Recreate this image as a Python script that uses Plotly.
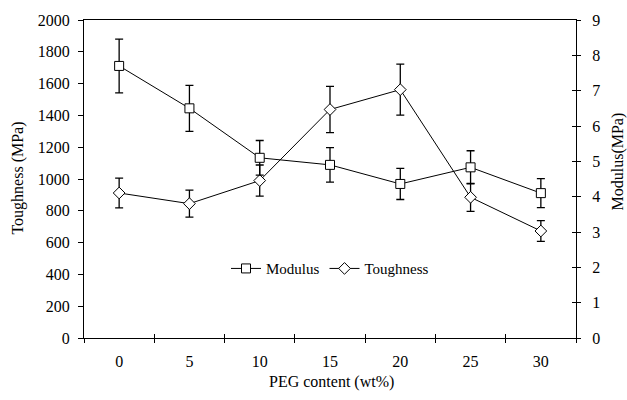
import plotly.graph_objects as go

peg = [0, 5, 10, 15, 20, 25, 30]
peg_labels = ["0", "5", "10", "15", "20", "25", "30"]

toughness = [912, 845, 990, 1437, 1562, 885, 673]
toughness_err = [93, 85, 98, 145, 160, 88, 65]

modulus = [7.70, 6.50, 5.10, 4.90, 4.36, 4.83, 4.10]
modulus_err = [0.76, 0.65, 0.49, 0.49, 0.44, 0.47, 0.41]

left_ticks = list(range(0, 2001, 200))
right_ticks = list(range(0, 10))

FONT = "Liberation Serif, Times New Roman, serif"
step = peg[1] - peg[0]
xr = [peg[0] - step / 2, peg[-1] + step / 2]
bounds = [peg[0] - step / 2 + i * step for i in range(len(peg) + 1)]

fig = go.Figure()
fig.add_trace(go.Scatter(
    x=peg, y=modulus, name="Modulus", yaxis="y2", mode="lines+markers",
    line=dict(color="black", width=1),
    marker=dict(symbol="square", size=9, color="white", line=dict(color="black", width=1)),
    error_y=dict(type="data", array=modulus_err, color="black", thickness=1.3, width=4),
))
fig.add_trace(go.Scatter(
    x=peg, y=toughness, name="Toughness", yaxis="y", mode="lines+markers",
    line=dict(color="black", width=1),
    marker=dict(symbol="diamond", size=9, color="white", line=dict(color="black", width=1)),
    error_y=dict(type="data", array=toughness_err, color="black", thickness=1.3, width=4),
))
# invisible helper traces so the tick-only overlay axes are drawn
fig.add_trace(go.Scatter(x=[None], y=[None], xaxis="x2", yaxis="y", showlegend=False, hoverinfo="skip"))
fig.add_trace(go.Scatter(x=[None], y=[None], xaxis="x3", yaxis="y", showlegend=False, hoverinfo="skip"))
fig.add_trace(go.Scatter(x=[None], y=[None], xaxis="x", yaxis="y3", showlegend=False, hoverinfo="skip"))

tickfont = dict(family=FONT, size=16, color="black")
titlefont = dict(family=FONT, size=16, color="black")

fig.update_layout(
    width=627, height=400,
    margin=dict(l=84, r=51, t=17, b=62),
    paper_bgcolor="white", plot_bgcolor="white",
    font=dict(family=FONT, size=16, color="black"),
    showlegend=True,
    legend=dict(orientation="h", x=0.50, y=0.218, xanchor="center", yanchor="middle",
                font=dict(family=FONT, size=15, color="black"), bgcolor="rgba(0,0,0,0)",
                itemwidth=30, tracegroupgap=0),
    xaxis=dict(range=xr, tickvals=peg, ticktext=peg_labels, ticks="", showline=True,
               linecolor="black", linewidth=1.3, mirror=True, showgrid=False, zeroline=False,
               tickfont=tickfont, ticklabelstandoff=9),
    xaxis2=dict(range=xr, overlaying="x", anchor="y", tickvals=bounds, ticks="outside",
                ticklen=4, tickcolor="black", showticklabels=False, showline=False,
                showgrid=False, zeroline=False),
    xaxis3=dict(range=xr, overlaying="x", anchor="y", tickvals=bounds, ticks="inside",
                ticklen=4, tickcolor="black", showticklabels=False, showline=False,
                showgrid=False, zeroline=False),
    yaxis=dict(range=[0, 2000], tickvals=left_ticks, ticks="outside", ticklen=5,
               tickcolor="black", showline=True, linecolor="black", linewidth=1.3,
               showgrid=False, zeroline=False, tickfont=tickfont, ticklabelstandoff=5),
    yaxis2=dict(range=[0, 9], tickvals=right_ticks, overlaying="y", side="right", anchor="x",
                ticks="outside", ticklen=4, tickcolor="black", showline=True,
                linecolor="black", linewidth=1.3, showgrid=False, zeroline=False,
                tickfont=tickfont, ticklabelstandoff=8),
    yaxis3=dict(range=[0, 9], tickvals=right_ticks, overlaying="y", side="right", anchor="x",
                ticks="inside", ticklen=4, tickcolor="black", showticklabels=False,
                showline=False, showgrid=False, zeroline=False),
    annotations=[
        dict(text="Toughness (MPa)", xref="paper", yref="paper", x=-0.134, y=0.5016,
             textangle=-90, showarrow=False, xanchor="center", yanchor="middle",
             font=titlefont),
        dict(text="Modulus(MPa)", xref="paper", yref="paper", x=1.085, y=0.5545,
             textangle=-90, showarrow=False, xanchor="center", yanchor="middle",
             font=titlefont),
        dict(text="PEG content (wt%)", xref="paper", yref="paper", x=0.504, y=-0.137,
             showarrow=False, xanchor="center", yanchor="middle",
             font=titlefont),
    ],
)

fig.write_html("out.html")
